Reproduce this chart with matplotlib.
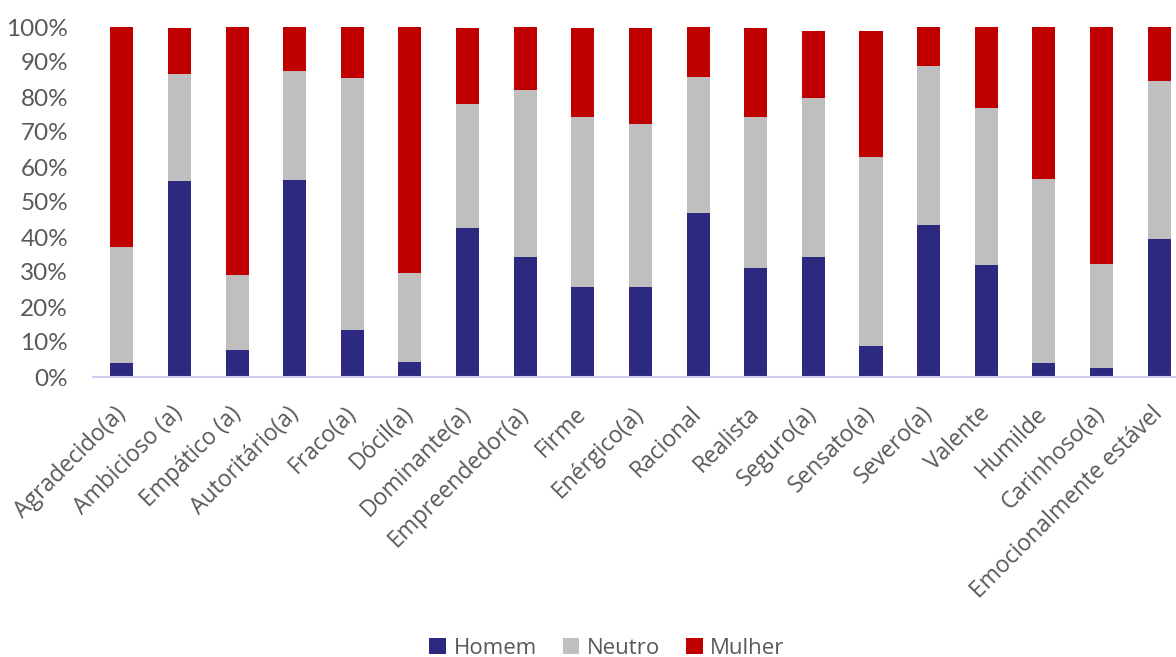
import matplotlib.pyplot as plt
import numpy as np
from matplotlib.ticker import PercentFormatter

categories = ["Agradecido(a)", "Ambicioso (a)", "Empático (a)", "Autoritário(a)",
              "Fraco(a)", "Dócil(a)", "Dominante(a)", "Empreendedor(a)", "Firme",
              "Enérgico(a)", "Racional", "Realista", "Seguro(a)", "Sensato(a)",
              "Severo(a)", "Valente", "Humilde", "Carinhoso(a)",
              "Emocionalmente estável"]

# cumulative tops (%) of each segment, read per bar
homem_top = [4.0, 56.0, 7.6, 56.2, 13.5, 4.3, 42.6, 34.4, 25.8, 25.8, 47.0, 31.2,
             34.4, 9.0, 43.3, 32.1, 4.0, 2.7, 39.4]
neutro_top = [37.1, 86.7, 29.2, 87.4, 85.4, 29.7, 78.1, 82.1, 74.2, 72.2, 85.7, 74.2,
              79.8, 63.0, 88.8, 76.8, 56.6, 32.4, 84.7]
total_top = [100, 99.6, 100, 100, 100, 100, 99.6, 100, 99.6, 99.6, 100, 99.6,
             99.0, 99.0, 100, 100, 100, 100, 100]

homem = np.array(homem_top) / 100
neutro = (np.array(neutro_top) - np.array(homem_top)) / 100
mulher = (np.array(total_top) - np.array(neutro_top)) / 100

c_homem = "#2E2980"
c_neutro = "#BFBFBF"
c_mulher = "#C00000"
txt = "#595959"

fig = plt.figure(figsize=(11.76, 6.57), dpi=100)
ax = fig.add_axes([93 / 1176, 280 / 657, (1188 - 93) / 1176, 350 / 657])

x = np.arange(len(categories))
w = 0.40
ax.bar(x, homem, w, color=c_homem, label="Homem")
ax.bar(x, neutro, w, bottom=homem, color=c_neutro, label="Neutro")
ax.bar(x, mulher, w, bottom=homem + neutro, color=c_mulher, label="Mulher")

ax.set_xlim(-0.5, len(categories) - 0.5)
ax.set_ylim(0, 1)
ax.set_yticks(np.arange(0, 1.01, 0.1))
ax.yaxis.set_major_formatter(PercentFormatter(1.0, decimals=0))
ax.tick_params(axis="y", length=0, pad=18, labelsize=17.5, labelcolor=txt)
for lab in ax.get_yticklabels():
    lab.set_family("Lato")

ax.set_xticks(x)
ax.set_xticklabels(categories, rotation=45, ha="right", va="center",
                   rotation_mode="anchor", fontsize=16.5, color=txt,
                   family="Open Sans")
ax.tick_params(axis="x", length=0, pad=24)

for s in ["top", "right", "left"]:
    ax.spines[s].set_visible(False)
ax.spines["bottom"].set_color("#D0CCEE")
ax.spines["bottom"].set_linewidth(1.5)

fig.legend(loc="center", bbox_to_anchor=(607 / 1176, 1 - 648 / 657), ncol=3,
           frameon=False, handlelength=0.75, handleheight=0.75, handletextpad=0.35,
           columnspacing=1.15, prop={"family": "Open Sans", "size": 16},
           labelcolor=txt)

fig.savefig("out.png", dpi=100)
